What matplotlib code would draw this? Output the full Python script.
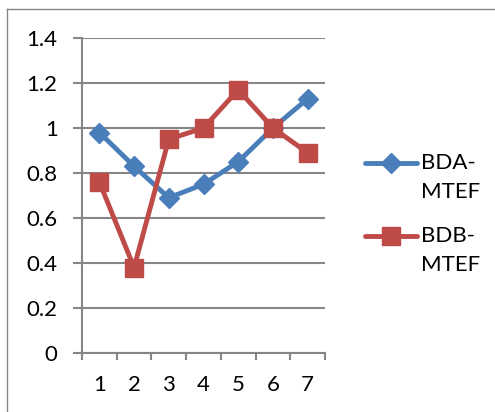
import matplotlib.pyplot as plt
from matplotlib.lines import Line2D

plt.rcParams['font.family'] = ['Lato', 'DejaVu Sans']

categories = ['1', '2', '3', '4', '5', '6', '7']
bda_mtef = [0.98, 0.83, 0.69, 0.75, 0.85, 1.00, 1.13]
bdb_mtef = [0.76, 0.38, 0.95, 1.00, 1.17, 1.00, 0.89]
series_names = [['BDA-', 'MTEF'], ['BDB-', 'MTEF']]
yticks = [0, 0.2, 0.4, 0.6, 0.8, 1.0, 1.2, 1.4]
ytick_labels = ['0', '0.2', '0.4', '0.6', '0.8', '1', '1.2', '1.4']

blue = '#4A7EBB'
red = '#BE4B48'
grey = '#868686'
W, H = 495, 412

fig = plt.figure(figsize=(W / 100, H / 100), dpi=100)
ax = fig.add_axes([82 / W, 1 - 353 / H, 243 / W, 315 / H])

x = range(len(categories))
styles = [dict(color=blue, marker='D', ms=10), dict(color=red, marker='s', ms=13)]
for vals, st in zip([bda_mtef, bdb_mtef], styles):
    ax.plot(x, vals, lw=3.5, mec=st['color'], zorder=3, **st)

ax.set_xlim(-0.5, 6.5)
ax.set_ylim(0, 1.4)
ax.set_yticks(yticks)
ax.set_yticklabels(ytick_labels)
ax.set_xticks(x)
ax.set_xticklabels(categories)
ax.set_xticks([i - 0.5 for i in range(8)], minor=True)

ax.grid(axis='y', color=grey, lw=1.5)
ax.set_axisbelow(True)
for s in ['top', 'right']:
    ax.spines[s].set_visible(False)
for s in ['left', 'bottom']:
    ax.spines[s].set_color(grey)
    ax.spines[s].set_linewidth(1.5)

ax.tick_params(axis='y', length=6.5, width=1.5, color=grey, labelsize=16, pad=11)
ax.tick_params(axis='x', which='major', length=0, labelsize=16, pad=16)
ax.tick_params(axis='x', which='minor', length=5, width=1.5, color=grey)

# legend, drawn by hand so the key sits on the first text line
for i, (name, st) in enumerate(zip(series_names, styles)):
    y0 = 1 - (163 + 73 * i) / H
    fig.add_artist(Line2D([365 / W, 391 / W, 417 / W], [y0] * 3, lw=3.5,
                          mec=st['color'], markevery=[1],
                          solid_capstyle='round', **st))
    for j, line in enumerate(name):
        fig.text(421 / W, y0 - 29 * j / H, line, fontsize=16,
                 va='center', ha='left')

# outer chart border
fig.add_artist(Line2D([7 / W, 7 / W], [0, 1 - 9 / H], color=grey, lw=1))
fig.add_artist(Line2D([7 / W, 1], [1 - 9 / H, 1 - 9 / H], color=grey, lw=1))

fig.savefig('out.png', dpi=100)
